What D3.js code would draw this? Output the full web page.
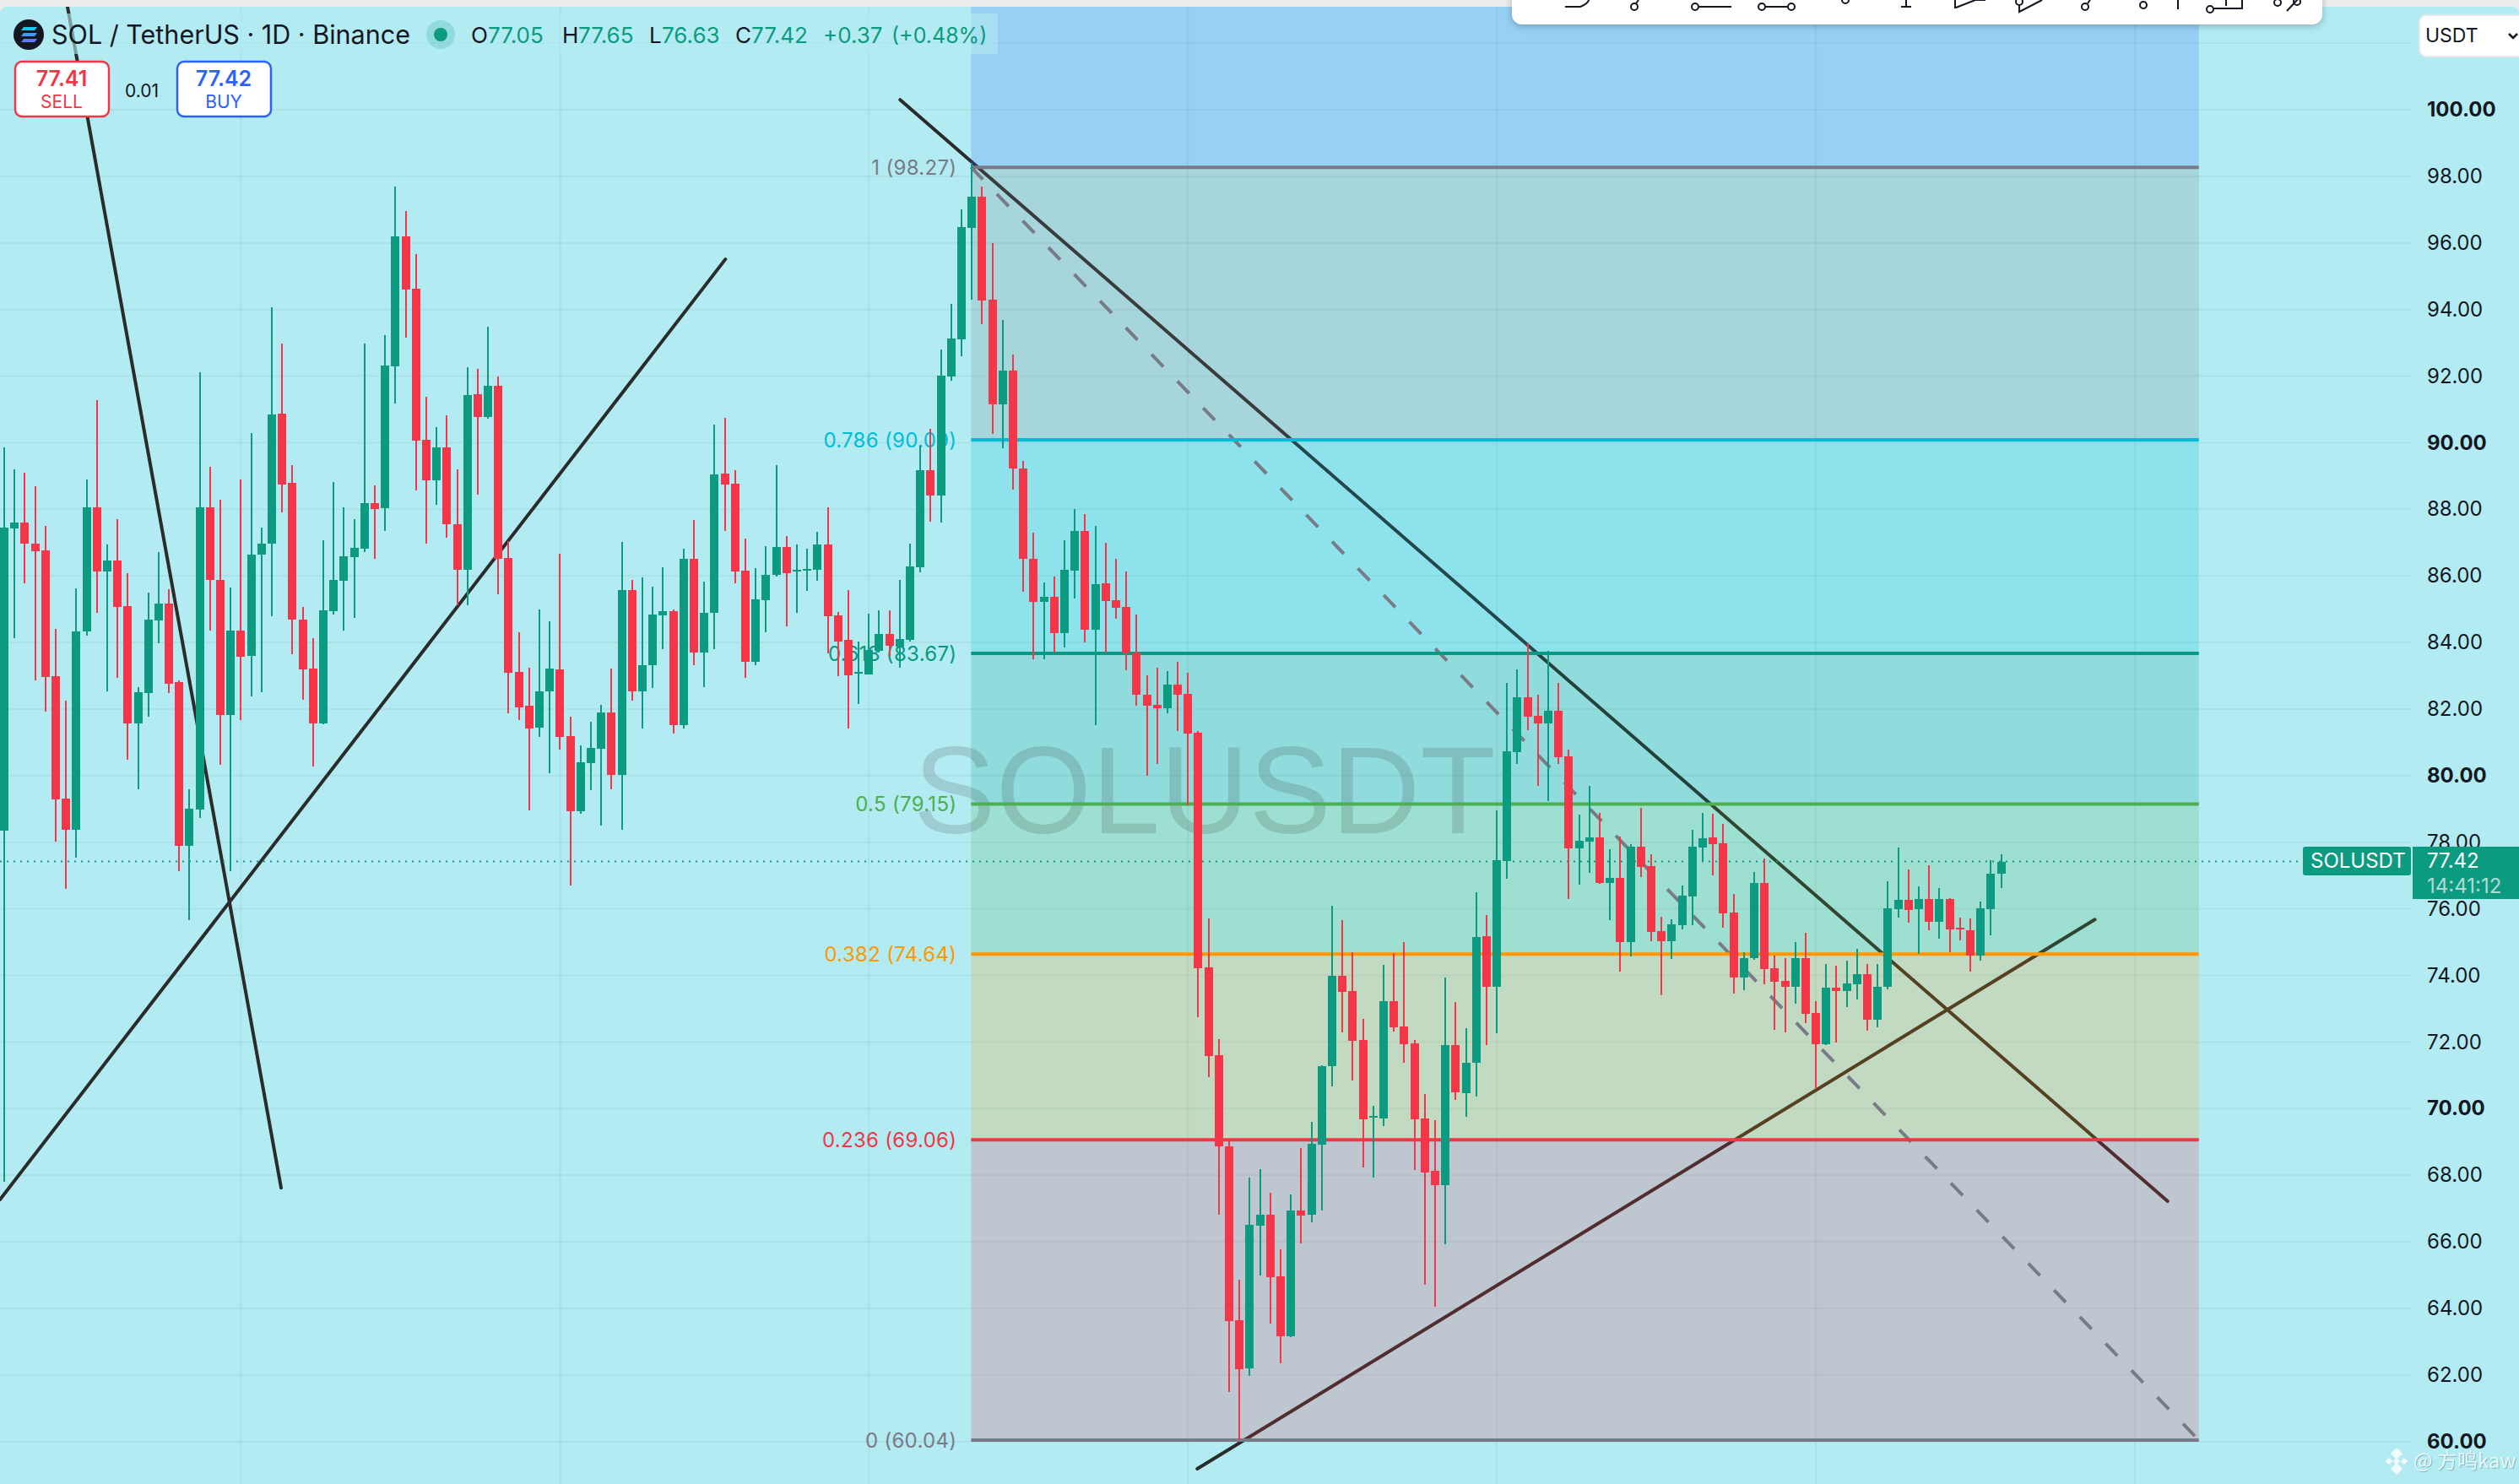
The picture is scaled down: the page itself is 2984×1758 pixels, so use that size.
<!DOCTYPE html>
<html>
<head>
<meta charset="utf-8">
<style>
  html, body { margin: 0; padding: 0; background: #ebeded; }
  svg { display: block; }
  text { font-family: Inter, "Noto Sans", sans-serif; }
</style>
<script src="https://cdn.jsdelivr.net/npm/d3@7"></script>
</head>
<body>
<svg id="chart" width="2984" height="1758"></svg>
<script>
const opens = [78.34,87.42,87.60,86.98,86.77,82.98,79.30,78.37,84.32,88.06,86.12,86.46,85.09,81.58,82.47,84.65,85.16,82.81,77.89,78.98,
  88.06,85.89,81.82,84.35,83.59,86.63,86.97,90.87,88.79,84.68,83.21,81.57,84.93,85.85,86.56,86.81,88.18,88.03,92.28,96.20,
  94.62,90.08,88.86,89.85,87.55,86.18,91.45,90.77,91.70,86.53,83.11,82.09,81.44,82.53,83.18,81.18,78.92,80.37,80.80,81.89,
  80.01,85.57,82.53,83.32,84.81,84.93,81.51,86.50,83.69,84.89,89.07,88.76,86.15,83.43,85.27,86.02,86.87,86.12,86.17,86.18,
  86.94,84.82,84.07,83.07,83.05,83.74,84.25,83.88,84.07,86.26,89.17,88.41,91.99,93.10,96.45,97.38,94.29,91.16,92.17,89.22,
  86.52,85.23,85.38,84.28,86.16,87.34,84.39,85.77,85.26,85.06,83.71,82.42,82.12,82.02,82.73,82.45,81.30,74.24,71.60,68.86,
  63.65,62.20,66.48,66.81,64.95,63.15,66.93,66.81,68.91,71.28,73.98,73.53,72.05,69.73,69.70,73.22,72.47,71.95,69.70,68.12,
  67.69,71.91,70.46,71.37,75.17,73.66,77.43,80.71,82.35,81.80,81.56,81.94,80.57,77.81,78.01,78.14,76.77,76.92,74.99,77.87,
  77.28,75.33,75.02,75.50,76.36,77.84,78.14,77.97,75.88,73.94,74.52,76.77,74.21,73.83,73.65,74.52,72.87,71.93,73.63,73.53,
  73.73,74.03,72.67,73.65,75.98,76.26,75.98,76.29,75.60,76.29,75.43,75.35,74.59,75.98,77.05];
const highs = [89.85,89.20,89.10,88.69,87.49,84.41,82.25,85.62,88.89,91.28,86.94,87.70,86.09,82.67,85.50,86.71,85.60,82.85,79.60,92.11,
  89.27,88.28,85.64,88.89,90.29,87.46,94.06,92.98,89.33,85.06,84.12,87.07,88.82,88.07,87.70,92.98,88.72,93.23,97.70,96.95,
  95.66,91.39,90.46,90.81,89.20,92.27,92.21,93.48,91.99,87.04,84.30,83.24,84.99,84.63,86.66,81.76,80.90,81.61,82.12,83.21,
  87.01,85.89,85.95,85.67,86.26,85.00,86.81,87.67,85.82,90.54,90.74,89.17,87.11,86.23,86.88,89.33,87.19,86.94,86.81,87.32,
  88.07,84.92,85.57,84.03,84.86,84.96,84.96,85.89,86.98,89.92,90.42,92.79,94.16,97.01,98.40,97.69,95.99,93.68,92.66,89.45,
  87.29,85.80,85.97,87.08,88.00,87.85,87.50,86.99,86.52,86.12,84.83,83.01,83.24,83.14,83.41,83.10,81.33,75.72,72.08,69.03,
  64.86,67.93,68.17,67.48,65.77,67.42,68.81,69.60,71.29,76.09,75.66,74.69,72.69,70.08,74.32,74.67,75.00,72.05,70.44,69.65,
  73.93,73.19,72.42,76.49,75.81,78.95,82.79,83.20,83.97,82.43,83.75,82.79,80.78,78.83,79.69,78.88,77.78,78.18,77.94,79.03,
  77.63,75.76,75.68,76.70,78.37,78.88,78.85,78.55,76.44,74.71,77.11,77.50,74.59,74.53,74.99,75.29,73.22,74.33,74.29,74.44,
  74.81,74.33,74.33,76.82,77.83,77.18,76.67,77.32,76.62,76.31,75.73,75.71,76.22,77.45,77.65];
const lows = [67.80,84.14,85.78,82.85,81.92,78.03,76.59,77.54,84.20,84.89,82.54,82.94,80.48,79.60,81.76,83.97,82.47,77.14,75.66,78.72,
  84.35,80.32,77.13,81.68,82.37,82.50,84.79,87.90,83.64,82.27,80.27,81.54,84.83,84.35,84.73,86.71,86.50,87.36,91.18,93.16,
  88.56,86.98,88.13,87.14,85.13,85.11,88.44,90.71,85.44,81.86,81.68,78.95,81.16,80.08,80.78,76.69,78.86,79.56,78.51,79.60,
  78.37,82.25,81.41,82.63,83.80,81.26,81.41,83.32,82.65,83.80,87.35,85.78,82.94,83.33,84.30,85.99,84.48,84.90,85.54,85.85,
  83.66,82.98,81.41,82.16,83.04,83.71,83.59,83.24,84.04,86.10,87.62,87.59,91.86,92.59,94.29,93.57,90.26,89.84,88.58,85.53,
  83.50,83.50,83.71,83.86,85.31,84.00,81.51,83.71,84.71,83.16,82.10,79.99,80.34,81.88,81.34,79.12,72.74,70.94,66.81,61.49,
  60.04,61.96,64.98,63.54,62.35,63.14,65.95,66.58,66.93,70.66,72.29,70.84,68.23,67.93,69.47,72.31,71.37,68.15,64.71,64.05,
  65.92,70.26,69.75,70.36,71.91,72.26,76.90,80.35,81.36,79.69,79.23,80.35,76.29,76.73,77.08,76.76,75.66,74.11,74.57,76.96,
  75.02,73.40,74.49,75.38,75.50,77.43,77.00,75.43,73.45,73.55,74.46,73.73,72.36,72.30,73.15,72.56,70.60,71.92,71.98,73.05,
  73.27,72.33,72.43,73.58,75.73,75.58,74.64,75.35,75.10,74.70,75.05,74.11,74.45,75.20,76.63];
const closes = [87.46,87.60,86.97,86.74,82.95,79.28,78.37,84.32,88.06,86.12,86.46,85.06,81.58,82.50,84.68,85.16,82.75,77.89,79.01,88.06,
  85.88,81.82,84.35,83.56,86.63,86.97,90.84,88.74,84.68,83.18,81.57,84.96,85.88,86.58,86.84,88.18,88.00,92.31,96.20,94.60,
  90.05,88.86,89.85,87.55,86.18,91.42,90.77,91.70,86.50,83.08,82.06,81.41,82.54,83.21,81.16,78.92,80.39,80.83,81.89,80.01,
  85.57,82.54,83.33,84.83,84.93,81.51,86.50,83.69,84.90,89.04,88.74,86.12,83.43,85.29,86.02,86.87,86.09,86.18,86.21,86.94,
  84.79,84.04,83.01,83.11,83.77,84.25,83.90,84.10,86.29,89.17,88.41,92.01,93.13,96.47,97.39,94.28,91.16,92.17,89.23,86.51,
  85.23,85.38,84.28,86.17,87.36,84.39,85.75,85.25,85.05,83.70,82.44,82.11,82.02,82.73,82.44,81.27,74.22,71.58,68.86,63.62,
  62.17,66.50,66.81,64.94,63.15,66.93,66.79,68.94,71.28,73.98,73.50,72.03,69.67,69.78,73.22,72.44,71.93,69.67,68.08,67.69,
  71.91,70.49,71.37,75.15,73.66,77.46,80.73,82.35,81.77,81.56,81.94,80.55,77.81,78.04,78.14,76.77,76.92,74.99,77.87,77.25,
  75.30,75.02,75.53,76.39,77.87,78.12,77.94,75.86,73.94,74.52,76.77,74.19,73.81,73.65,74.52,72.84,71.93,73.63,73.53,73.75,
  74.03,72.67,73.65,76.01,76.26,75.96,76.29,75.60,76.29,75.38,75.38,74.59,76.01,77.05,77.42];

const priceTicks = [60,62,64,66,68,70,72,74,76,78,80,82,84,86,88,90,92,94,96,98,100];
const monthStarts = [23,54,84,115,145,176,207];

const fibRatios = ['1','0.786','0.618','0.5','0.382','0.236','0'];
const fibPrices = [98.27,90.09,83.67,79.15,74.64,69.06,60.04];
const fibColors = ['#787b86','#00bcd4','#089981','#4caf50','#ff9800','#f23645','#787b86'];
const fibFrom = 93.93, fibTo = 213.2;

// drawn lines as [candle index, price] pairs
const trendLines = [
  [[6.15,103.09],[26.9,67.62]],
  [[-0.41,67.27],[70.06,95.51]],
  [[87.04,100.30],[210.17,67.22]],
  [[115.9,59.18],[203.1,75.68]]
];

const green = '#0c9a81', red = '#f43648', bg = '#b2ebf2', lastPrice = 77.42;

const x = d3.scaleLinear().domain([0, closes.length - 1]).range([5, 2370.6]);
const y = d3.scaleLinear().domain([100, 60]).range([130, 1707.7]);
const W = 2984, H = 1758, plotRight = 2856, axisX = 2875;

const svg = d3.select('#chart');
svg.append('defs').append('clipPath').attr('id', 'pane')
  .append('rect').attr('x', 0).attr('y', 8).attr('width', W).attr('height', H).attr('rx', 8);

const root = svg.append('g').attr('clip-path', 'url(#pane)');
root.append('rect').attr('width', W).attr('height', H).attr('fill', bg);

// grid
root.append('g').selectAll('line').data(priceTicks.concat(102)).join('line')
  .attr('x1', 0).attr('x2', plotRight).attr('y1', d => y(d)).attr('y2', d => y(d))
  .attr('stroke', 'rgba(30,70,70,.06)').attr('stroke-width', 2);
root.append('g').selectAll('line').data(monthStarts).join('line')
  .attr('x1', d => x(d)).attr('x2', d => x(d)).attr('y1', 0).attr('y2', H)
  .attr('stroke', 'rgba(30,70,70,.06)').attr('stroke-width', 2);

// trend lines sit under the fib fill, that is why they turn brown over it
const line = d3.line().x(d => x(d[0])).y(d => y(d[1]));
root.append('g').selectAll('path').data(trendLines).join('path')
  .attr('d', line).attr('fill', 'none')
  .attr('stroke', '#2b2b2b').attr('stroke-width', 4).attr('stroke-linecap', 'round');

// fib zones
const zoneTops = [105].concat(fibPrices.slice(0, -1));
const zoneColors = ['#2962ff'].concat(fibColors.slice(0, -1));
root.append('g').selectAll('rect').data(zoneTops).join('rect')
  .attr('x', x(fibFrom)).attr('width', x(fibTo) - x(fibFrom))
  .attr('y', d => y(d))
  .attr('height', (d, i) => y(fibPrices[i]) - y(d))
  .attr('fill', (d, i) => zoneColors[i]).attr('fill-opacity', .2);

// watermark
root.append('text').attr('x', 1082).attr('y', 987)
  .attr('font-size', 146).style('font-family', '"Liberation Sans", Arial, sans-serif')
  .attr('fill', 'rgb(55,55,55)').attr('fill-opacity', .17)
  .text('SOLUSDT');

// fib diagonal
root.append('path').datum([[fibFrom, fibPrices[0]], [fibTo, fibPrices[6]]])
  .attr('d', line).attr('fill', 'none')
  .attr('stroke', '#787b86').attr('stroke-width', 4).attr('stroke-dasharray', '20 24');

// fib levels
root.append('g').selectAll('line').data(fibPrices).join('line')
  .attr('x1', x(fibFrom)).attr('x2', x(fibTo))
  .attr('y1', d => y(d)).attr('y2', d => y(d))
  .attr('stroke', (d, i) => fibColors[i]).attr('stroke-width', 4);
root.append('g').selectAll('text').data(fibPrices).join('text')
  .attr('x', x(fibFrom) - 17).attr('y', d => y(d)).attr('dy', '.36em')
  .attr('text-anchor', 'end').attr('font-size', 24).attr('letter-spacing', .3)
  .attr('fill', (d, i) => fibColors[i])
  .text((d, i) => `${fibRatios[i]} (${d.toFixed(2)})`);

// last price line
root.append('line').attr('x1', 0).attr('x2', 2728)
  .attr('y1', y(lastPrice)).attr('y2', y(lastPrice))
  .attr('stroke', green).attr('stroke-width', 2).attr('stroke-dasharray', '2 6');

// candles
const idx = d3.range(closes.length);
const col = i => closes[i] >= opens[i] ? green : red;
const candles = root.append('g').attr('shape-rendering', 'crispEdges');
candles.selectAll('.wick').data(idx).join('rect').attr('class', 'wick')
  .attr('x', i => x(i) - 1).attr('width', 2)
  .attr('y', i => y(highs[i])).attr('height', i => y(lows[i]) - y(highs[i]))
  .attr('fill', col);
candles.selectAll('.body').data(idx).join('rect').attr('class', 'body')
  .attr('x', i => x(i) - 5).attr('width', 10)
  .attr('y', i => y(Math.max(opens[i], closes[i])))
  .attr('height', i => Math.max(2, Math.abs(y(opens[i]) - y(closes[i]))))
  .attr('fill', col);

// legend backdrop
root.append('rect').attr('x', 0).attr('y', 16).attr('width', 1182).attr('height', 48)
  .attr('fill', bg).attr('fill-opacity', .6);

// price axis
const axis = root.append('g').attr('transform', `translate(${axisX},0)`)
  .call(d3.axisRight(y).tickValues(priceTicks).tickSize(0).tickPadding(0).tickFormat(d => d.toFixed(2)));
axis.select('.domain').remove();
axis.selectAll('text')
  .style('font-family', 'Inter, sans-serif').attr('font-size', 24).attr('fill', '#131722')
  .attr('font-weight', d => d % 10 === 0 ? 700 : 400);

// last price tags
root.append('rect').attr('x', 2728).attr('y', 1003).attr('width', 128).attr('height', 34).attr('rx', 3).attr('fill', green);
root.append('text').attr('x', 2737).attr('y', 1028).attr('font-size', 24).attr('fill', '#fff').text('SOLUSDT');
root.append('rect').attr('x', 2858).attr('y', 1003).attr('width', 126).attr('height', 62).attr('fill', green);
root.append('text').attr('x', axisX).attr('y', 1028).attr('font-size', 24).attr('fill', '#fff').text(lastPrice.toFixed(2));
root.append('text').attr('x', axisX).attr('y', 1058).attr('font-size', 24).attr('fill', '#fff').attr('fill-opacity', .68).text('14:41:12');

// header
const logo = root.append('g').attr('transform', 'translate(34,41)');
logo.append('circle').attr('r', 18).attr('fill', '#131722');
[[-7, '#19c9f0'], [0, '#3f9bf5'], [7, '#5f7cf7']].forEach(s => {
  logo.append('path').attr('d', `M-9 ${s[0] + 2} L-6 ${s[0] - 2} L10 ${s[0] - 2} L7 ${s[0] + 2} Z`).attr('fill', s[1]);
});
root.append('text').attr('x', 61).attr('y', 52).attr('font-size', 30.5).attr('fill', '#131722')
  .text('SOL / TetherUS · 1D · Binance');
root.append('circle').attr('cx', 522).attr('cy', 41).attr('r', 17).attr('fill', green).attr('fill-opacity', .2);
root.append('circle').attr('cx', 522).attr('cy', 41).attr('r', 8).attr('fill', green);

const ohlc = [['O', 558, '77.05', 578], ['H', 666, '77.65', 685], ['L', 769, '76.63', 784], ['C', 871, '77.42', 890]];
ohlc.forEach(d => {
  root.append('text').attr('x', d[1]).attr('y', 51).attr('font-size', 26).attr('fill', '#131722').text(d[0]);
  root.append('text').attr('x', d[3]).attr('y', 51).attr('font-size', 26).attr('fill', green).text(d[2]);
});
root.append('text').attr('x', 975).attr('y', 51).attr('font-size', 26).attr('fill', green).text('+0.37');
root.append('text').attr('x', 1056).attr('y', 51).attr('font-size', 25).attr('fill', green).text('(+0.48%)');

// sell / buy
const buttons = [['77.41', 'SELL', 17, '#f23645'], ['77.42', 'BUY', 209, '#2962ff']];
buttons.forEach(b => {
  root.append('rect').attr('x', b[2] + 1).attr('y', 73).attr('width', 111).attr('height', 65).attr('rx', 8)
    .attr('fill', '#fff').attr('stroke', b[3]).attr('stroke-width', 2.5);
  root.append('text').attr('x', b[2] + 56).attr('y', 102).attr('text-anchor', 'middle')
    .attr('font-size', 25).attr('font-weight', 600).attr('fill', b[3]).text(b[0]);
  root.append('text').attr('x', b[2] + 56).attr('y', 128).attr('text-anchor', 'middle')
    .attr('font-size', 21).attr('fill', b[3]).text(b[1]);
});
root.append('text').attr('x', 168).attr('y', 115).attr('text-anchor', 'middle').attr('font-size', 21).attr('fill', '#131722').text('0.01');

// currency box
root.append('rect').attr('x', 2866).attr('y', 18).attr('width', 130).attr('height', 49).attr('rx', 8)
  .attr('fill', '#fff').attr('stroke', '#e8e8e8').attr('stroke-width', 2);
root.append('text').attr('x', 2873).attr('y', 50).attr('font-size', 23).attr('fill', '#131722').text('USDT');
root.append('path').attr('d', 'M2972 40 L2977 45 L2982 40').attr('fill', 'none').attr('stroke', '#131722').attr('stroke-width', 2.5);

// credit
const wm = root.append('g').attr('fill', '#fff').attr('fill-opacity', .8);
const mark = wm.append('g').attr('transform', 'translate(2839,1731)');
[[0, -9, 5], [-9, 0, 3], [9, 0, 3], [0, 0, 3], [0, 9, 5]].forEach(d => {
  mark.append('rect').attr('x', d[0] - d[2]).attr('y', d[1] - d[2]).attr('width', d[2] * 2).attr('height', d[2] * 2)
    .attr('transform', `rotate(45 ${d[0]} ${d[1]})`);
});
wm.append('text').attr('x', 2859).attr('y', 1739).attr('font-size', 24)
  .style('font-family', '"Noto Sans CJK SC", sans-serif')
  .style('filter', 'drop-shadow(1px 1px 0 rgba(0,70,80,.35))').text('@ 方鸣kaw');

// top bar
svg.append('rect').attr('x', 0).attr('y', 0).attr('width', W).attr('height', 8).attr('fill', '#ebeded');
const bar = svg.append('g');
bar.append('rect').attr('x', 1791).attr('y', -30).attr('width', 960).attr('height', 59).attr('rx', 12)
  .attr('fill', '#fff').style('filter', 'drop-shadow(0 2px 4px rgba(0,0,0,.25))');
const icons = bar.append('g').attr('fill', 'none').attr('stroke', '#131722').attr('stroke-width', 2);
icons.append('path').attr('d', 'M1854 8 H1872 Q1883 4 1883 -4');
[[1936, 8], [2008, 8], [2087, 8], [2122, 8], [2186, 0], [2392, 2], [2470, 8], [2539, 6], [2618, 11], [2698, 3], [2721, 2]].forEach(c => {
  icons.append('circle').attr('cx', c[0]).attr('cy', c[1]).attr('r', 4);
});
['M1938 4 L1941 0', 'M2012 8 H2051', 'M2091 8 H2118', 'M2258 0 V7 M2252 8 H2264', 'M2316 10 V0 M2317 9 L2340 0 H2352',
 'M2392 6 V14 L2419 0', 'M2473 4 L2476 0', 'M2580 0 V11', 'M2622 10 H2656 V0 M2637 7 V0', 'M2709 13 L2723 -2'].forEach(d => {
  icons.append('path').attr('d', d);
});
</script>
</body>
</html>
